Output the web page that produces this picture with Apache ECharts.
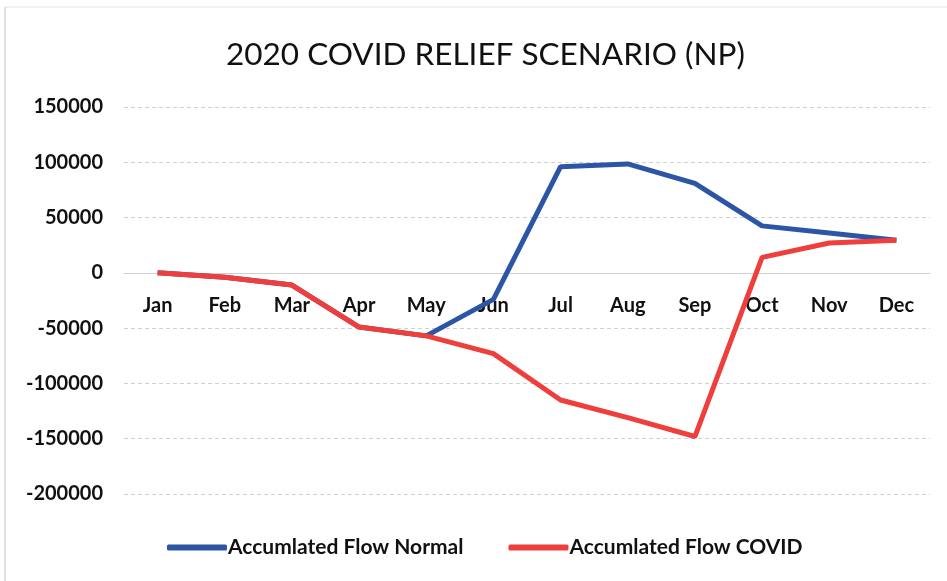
<!DOCTYPE html>
<html><head><meta charset="utf-8">
<script src="https://cdn.jsdelivr.net/npm/echarts@6/dist/echarts.min.js"></script>
<style>html,body{margin:0;padding:0;background:#fff}#c{width:947px;height:581px}</style>
</head><body><div id="c"></div>
<script>
const months = ['Jan','Feb','Mar','Apr','May','Jun','Jul','Aug','Sep','Oct','Nov','Dec'];
const normalFlow = [0,-4000,-11000,-49000,-57000,-24000,96000,98500,81000,42500,36000,29500];
const covidFlow  = [0,-4000,-11000,-49000,-57000,-73000,-115000,-131000,-148000,14000,27000,29500];
const yTicks = {min:-200000, max:150000, interval:50000};
const gridTop = 107, gridBottom = 87, H = 581;
const plotH = H - gridTop - gridBottom;
const zeroOffset = plotH * (0 - yTicks.min) / (yTicks.max - yTicks.min);
const chart = echarts.init(document.getElementById('c'));
const font = 'Lato, "Open Sans", sans-serif';
chart.setOption({
  animation:false,
  backgroundColor:'#fff',
  graphic:[
    {type:'line',shape:{x1:5,y1:7,x2:947,y2:7},style:{stroke:'#e2e2e2',lineWidth:1}},
    {type:'line',shape:{x1:5,y1:7,x2:5,y2:581},style:{stroke:'#d8d8d8',lineWidth:1.5}}
  ],
  title:{text:'2020 COVID RELIEF SCENARIO (NP)',left:221,top:34,
    textStyle:{fontFamily:font,fontSize:31.5,fontWeight:'normal',color:'#111'}},
  grid:{left:124,right:17,top:gridTop,bottom:gridBottom},
  legend:{bottom:18,left:162,itemWidth:60,itemHeight:6,itemGap:45,icon:'roundRect',
    textStyle:{fontFamily:font,fontSize:21,color:'#111',fontWeight:'bold',padding:[0,0,0,-4]},
    data:['Accumlated Flow Normal','Accumlated Flow COVID']},
  xAxis:{type:'category',data:months,boundaryGap:true,offset:-zeroOffset,
    axisLine:{show:true,onZero:false,lineStyle:{color:'#d0d0d0',width:1}},
    axisTick:{show:false},
    axisLabel:{fontFamily:font,fontSize:20,color:'#111',fontWeight:'bold',margin:23}},
  yAxis:{type:'value',min:yTicks.min,max:yTicks.max,interval:yTicks.interval,
    axisLine:{show:false},axisTick:{show:false},
    splitLine:{lineStyle:{color:'#d0d0d0',type:[4,3]}},
    axisLabel:{fontFamily:font,fontSize:20,color:'#111',fontWeight:'bold',margin:21,
      formatter:v=>String(v)}},
  series:[
    {name:'Accumlated Flow Normal',type:'line',data:normalFlow,showSymbol:false,
      lineStyle:{width:5,color:'#2c55a6'},itemStyle:{color:'#2c55a6'}},
    {name:'Accumlated Flow COVID',type:'line',data:covidFlow,showSymbol:false,
      lineStyle:{width:5,color:'#ee3f3c'},itemStyle:{color:'#ee3f3c'}}
  ]
});
</script></body></html>
